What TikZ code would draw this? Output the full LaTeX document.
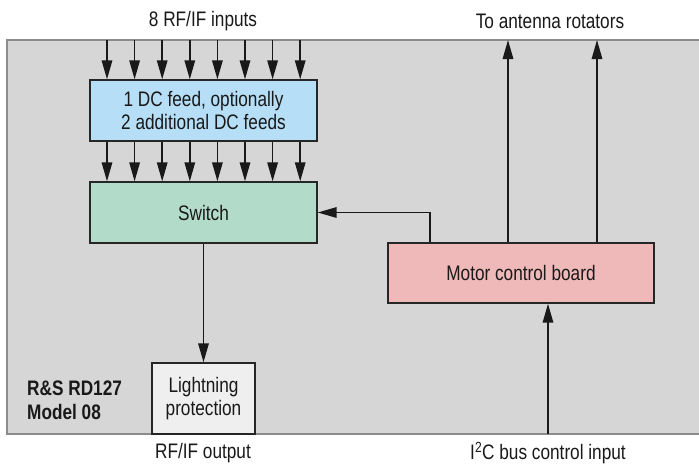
\documentclass[tikz,border=0pt]{standalone}
\usepackage{fontspec}
\setmainfont[FakeStretch=0.82]{Liberation Sans}
\usetikzlibrary{arrows.meta,calc}
\definecolor{bggray}{HTML}{D6D6D6}
\definecolor{bordergray}{HTML}{8C8C8C}
\definecolor{feedblue}{HTML}{B6DEF6}
\definecolor{switchgreen}{HTML}{B3DBCA}
\definecolor{motorpink}{HTML}{EFB9B9}
\definecolor{lightgray}{HTML}{EFEFEF}
\begin{document}
\begin{tikzpicture}[x=1pt,y=-1pt,
  every node/.style={font=\fontsize{21}{24}\selectfont, text=black!90},
  blockbox/.style={draw=black!85, line width=1.4pt, inner sep=0pt, align=center},
  arr/.style={line width=1.6pt, draw=black!90, -{Triangle[length=19pt,width=10.5pt]}},
  lbl/.style={inner sep=0pt}]
\useasboundingbox (0,0) rectangle (699,464);
\fill[bggray] (7,40) rectangle (699,434);
\draw[bordergray, line width=1.2pt] (699,40) -- (7,40) -- (7,434) -- (699,434);
\coordinate (top) at (0,40);
\coordinate (bot) at (0,434);
% blocks
\node[blockbox, fill=feedblue, minimum width=227pt, minimum height=61pt] (feed) at (203.5,110.5)
  {1 DC feed, optionally\\[-1pt]2 additional DC feeds};
\node[blockbox, fill=switchgreen, minimum width=227pt, minimum height=61pt] (sw) at (203.5,212.5) {Switch};
\node[blockbox, fill=lightgray, minimum width=103pt, minimum height=71pt] (lp) at (203.5,398.5)
  {Lightning\\[-1pt]protection};
\node[blockbox, fill=motorpink, minimum width=266pt, minimum height=60pt] (mc) at (521,273) {Motor control board};
% labels
\node[lbl] (inlbl) at (203,21) {8 RF/IF inputs};
\node[lbl] (outlbl) at (203,453) {RF/IF output};
\node[lbl] (rotlbl) at (550,21) {To antenna rotators};
\node[lbl] (i2clbl) at (548,453) {I\textsuperscript{2}C bus control input};
\node[lbl, anchor=west, align=left, font=\fontsize{21}{24}\bfseries\selectfont] (model) at (27,400)
  {R\&S RD127\\Model 08};
% input arrows
\foreach \i in {0,...,7} {
  \coordinate (c\i) at ({107+27.6*\i},0);
  \draw[arr] (c\i |- top) -- (c\i |- feed.north);
  \draw[arr] (c\i |- feed.south) -- (c\i |- sw.north);
}
% switch to lightning
\draw[arr] (sw.south) -- (lp.north);
% motor to switch
\coordinate (mcl) at (430,0);
\draw[arr] (mcl |- mc.north) |- (sw.east);
% motor to rotators
\coordinate (r1) at (508,0);
\coordinate (r2) at (597,0);
\draw[arr] (r1 |- mc.north) -- (r1 |- top);
\draw[arr] (r2 |- mc.north) -- (r2 |- top);
% i2c
\coordinate (ic) at (548,0);
\draw[arr] (ic |- bot) -- (ic |- mc.south);
\end{tikzpicture}
\end{document}
